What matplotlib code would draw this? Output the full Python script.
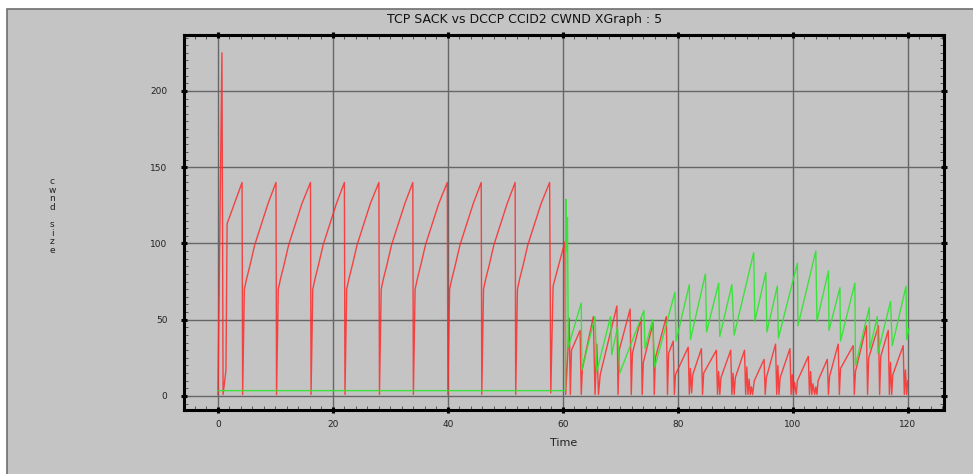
import matplotlib
matplotlib.use("Agg")
import matplotlib.pyplot as plt
from matplotlib.patches import Rectangle
from matplotlib.ticker import MultipleLocator

# TCP SACK cwnd (red)
tcp_time = [
    0.0, 0.7, 0.9, 1.4, 1.6, 4.2,
    4.3, 4.6, 5.0, 5.6, 6.4, 7.5, 8.7, 10.1,
    10.2, 10.5, 10.9, 11.5, 12.3, 13.4, 14.6, 16.1,
    16.2, 16.5, 16.9, 17.5, 18.3, 19.4, 20.6, 22.0,
    22.1, 22.4, 22.8, 23.4, 24.2, 25.3, 26.5, 28.0,
    28.1, 28.4, 28.8, 29.4, 30.2, 31.3, 32.5, 33.9,
    34.0, 34.3, 34.7, 35.3, 36.1, 37.2, 38.4, 39.9,
    40.0, 40.3, 40.7, 41.3, 42.1, 43.2, 44.4, 45.8,
    45.9, 46.2, 46.6, 47.2, 48.0, 49.1, 50.3, 51.7,
    51.8, 52.1, 52.5, 53.1, 53.9, 55.0, 56.2, 57.7,
    57.9, 58.3, 60.35, 60.5,
    60.9, 61.1, 61.3, 61.5, 63.0, 63.2, 63.4, 65.3, 65.6, 65.9, 66.2, 66.5,
    69.4, 69.6, 69.8, 71.7, 71.9, 72.1, 73.6, 73.8, 74.0, 75.7, 75.9, 76.1,
    78.0, 78.2, 78.4, 79.2, 79.4, 79.6, 81.8, 82.0, 82.2, 82.4, 82.6,
    84.1, 84.3, 84.5, 86.7, 86.9, 87.1, 87.3, 87.5, 89.2, 89.4, 89.6, 89.8, 90.0,
    91.6, 91.8, 92.0, 92.2, 92.4, 92.6, 92.8, 93.0, 93.3, 95.0, 95.2, 95.4,
    97.0, 97.2, 97.4, 97.6, 97.8, 99.5, 99.7, 99.9, 100.1, 100.3, 100.6, 100.8,
    102.7, 102.9, 103.1, 103.3, 103.5, 103.8, 104.0, 104.2, 104.4,
    106.0, 106.2, 106.4, 107.9, 108.1, 108.3, 110.5, 110.7, 110.9,
    112.8, 113.0, 113.2, 114.9, 115.1, 115.3, 116.6, 116.8, 117.0, 117.2, 117.4,
    119.2, 119.4, 119.6, 119.8, 120.0,
]
tcp_cwnd = [
    1, 225, 1, 17, 113, 140,
    1, 70, 77, 86, 99, 112, 126, 140,
    1, 70, 77, 86, 99, 112, 126, 140,
    1, 70, 77, 86, 99, 112, 126, 140,
    1, 70, 77, 86, 99, 112, 126, 140,
    1, 70, 77, 86, 99, 112, 126, 140,
    1, 70, 77, 86, 99, 112, 126, 140,
    1, 70, 77, 86, 99, 112, 126, 140,
    1, 70, 77, 86, 99, 112, 126, 140,
    1, 70, 77, 86, 99, 112, 126, 140,
    2, 72, 101, 1,
    31, 51, 1, 30, 43, 1, 18, 52, 1, 34, 1, 14,
    59, 1, 30, 57, 1, 28, 51, 1, 22, 48, 1, 25,
    52, 1, 28, 36, 1, 14, 32, 1, 18, 2, 14,
    31, 1, 15, 30, 1, 16, 1, 12, 30, 1, 15, 1, 12,
    30, 1, 19, 1, 11, 1, 6, 1, 10, 24, 1, 12,
    34, 1, 20, 1, 12, 31, 1, 14, 1, 9, 1, 10,
    26, 1, 16, 1, 8, 1, 6, 1, 10,
    24, 1, 13, 34, 1, 18, 33, 1, 16,
    46, 1, 25, 46, 1, 26, 43, 1, 22, 1, 14,
    33, 1, 17, 1, 10,
]

# DCCP CCID2 cwnd (green)
dccp_time = [
    0.0, 60.45, 60.55, 60.65, 60.8, 60.95, 63.2, 63.3, 65.6, 65.9, 68.3, 68.5,
    69.5, 69.9, 74.1, 74.3, 75.6, 76.0, 79.5, 79.7, 82.0, 82.2, 84.8, 85.0,
    87.1, 87.3, 89.4, 89.8, 93.2, 93.4, 95.3, 95.5, 97.3, 97.5, 100.8, 100.9,
    104.0, 104.2, 106.2, 106.3, 108.2, 108.3, 110.8, 110.9, 113.3, 113.4,
    114.7, 114.8, 117.0, 117.3, 119.7, 119.8, 120.2,
]
dccp_cwnd = [
    3.5, 3.5, 129, 95, 117, 32, 61, 17, 52, 16, 52, 27,
    45, 15, 56, 31, 50, 19, 68, 36, 73, 37, 80, 42,
    74, 39, 73, 40, 94, 49, 81, 42, 72, 38, 87, 46,
    95, 49, 82, 43, 71, 36, 74, 20, 58, 31,
    52, 28, 62, 33, 72, 37, 44,
]

x_ticks = [0, 20, 40, 60, 80, 100, 120]
y_ticks = [0, 50, 100, 150, 200]

BG = "#c4c4c4"

fig = plt.figure(figsize=(9.73, 4.74), dpi=100, facecolor="white")
# grey window area with a darker frame, white strip at top/left
frame = Rectangle((7 / 973, -0.01), 1.0, (474 - 9) / 474 + 0.01,
                  transform=fig.transFigure, facecolor=BG,
                  edgecolor="#6e6e6e", linewidth=1.2, zorder=-10)
fig.patches.append(frame)

ax = fig.add_axes([184 / 973, 64 / 474, 760 / 973, 375 / 474])
ax.set_facecolor(BG)

ax.plot(tcp_time, tcp_cwnd, color="#ff2a2a", linewidth=1.0, alpha=0.85, zorder=3)
ax.plot(dccp_time, dccp_cwnd, color="#2de62d", linewidth=1.0, alpha=0.9, zorder=4)

ax.set_xlim(-5.9, 126.3)
ax.set_ylim(-9.2, 236.7)
ax.set_xticks(x_ticks)
ax.set_yticks(y_ticks)
ax.xaxis.set_minor_locator(MultipleLocator(2))
ax.yaxis.set_minor_locator(MultipleLocator(5))

ax.grid(True, which="major", color="#666666", linewidth=1.0)
ax.set_axisbelow(True)

for sp in ax.spines.values():
    sp.set_linewidth(2.2)
    sp.set_color("black")

ax.tick_params(which="major", direction="inout", length=4, width=2.2,
               top=True, right=True, labelsize=6.5, colors="black",
               labelcolor="#222222")
ax.tick_params(axis="y", which="major", pad=10)
ax.tick_params(axis="x", which="major", pad=5)
ax.tick_params(which="minor", direction="in", length=3, width=0.7,
               top=True, right=True, color="#555555")

ax.set_xlabel("Time", fontsize=8, color="#222222", labelpad=7)

fig.text(525 / 973, 1 - 20 / 474, "TCP SACK vs DCCP CCID2 CWND XGraph : 5",
         ha="center", va="center", fontsize=9, color="#111111")
fig.text(52 / 973, 1 - 216 / 474, "c\nw\nn\nd\n\ns\ni\nz\ne",
         ha="center", va="center", fontsize=6.5, linespacing=0.95,
         color="#222222")

fig.savefig("out.png", dpi=100, facecolor=fig.get_facecolor())
